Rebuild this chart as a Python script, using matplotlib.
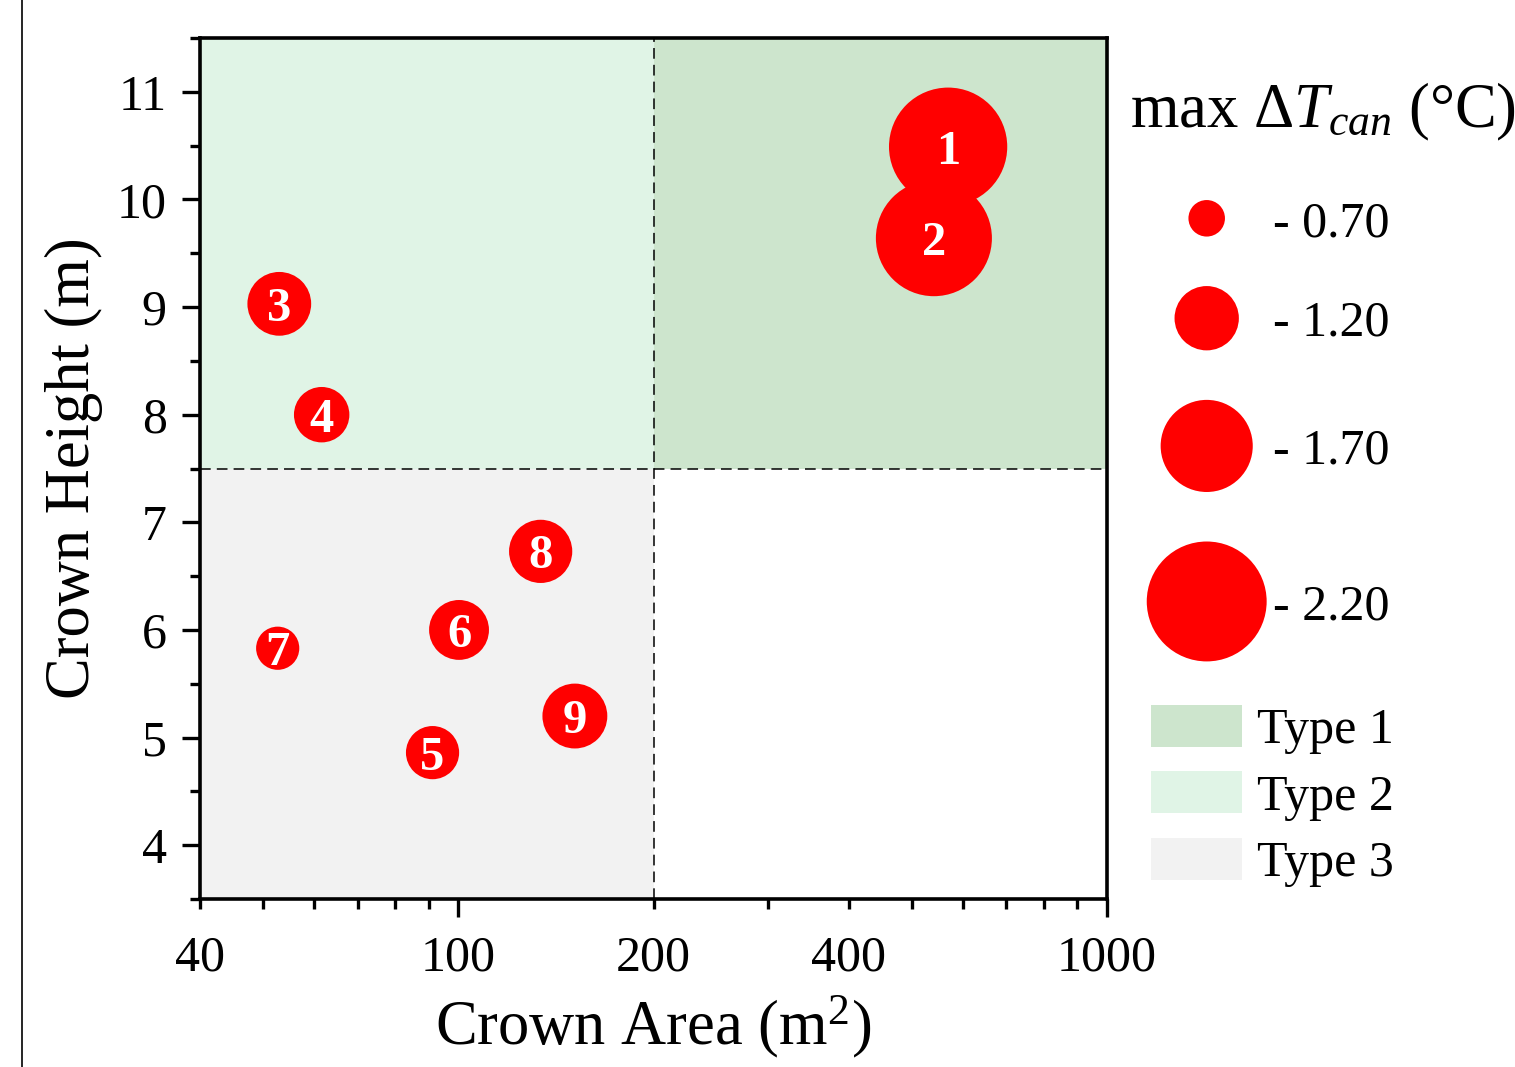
import matplotlib
matplotlib.use('Agg')
import matplotlib.pyplot as plt
from matplotlib.patches import Rectangle, Patch
from matplotlib.lines import Line2D
from matplotlib.ticker import FixedLocator, FuncFormatter, MultipleLocator

plt.rcParams['font.family'] = ['Liberation Serif', 'DejaVu Serif']
plt.rcParams['mathtext.fontset'] = 'custom'
plt.rcParams['mathtext.rm'] = 'Liberation Serif'
plt.rcParams['mathtext.it'] = 'Liberation Serif:italic'
plt.rcParams['mathtext.bf'] = 'Liberation Serif:bold'

# tree data
tree_ids = [1, 2, 3, 4, 5, 6, 7, 8, 9]
crown_area = [569, 541, 53.0, 61.6, 91.3, 100.3, 52.7, 134.0, 151.3]
crown_height = [10.49, 9.64, 9.03, 8.00, 4.86, 6.00, 5.83, 6.73, 5.20]
max_dt = [-2.17, -2.13, -1.19, -1.04, -1.00, -1.12, -0.82, -1.18, -1.21]

# size legend
legend_dt = [-0.70, -1.20, -1.70, -2.20]

# crown type regions
area_split = 200
height_split = 7.5
type_labels = ['Type 1', 'Type 2', 'Type 3']
type_colors = ['#cde5cd', '#e0f4e6', '#f2f2f2']

x_ticks_labelled = [40, 100, 200, 400, 1000]

DPI = 100
W, H = 1515, 1067
RED = '#ff0000'


def radius_px(dt):
    return 27.8 * abs(dt) - 1.2


def marker_area(dt):
    d_pt = 2 * radius_px(dt) * 72 / DPI
    return d_pt ** 2


fig = plt.figure(figsize=(W / DPI, H / DPI), dpi=DPI)
ax = fig.add_axes([200 / W, 1 - 899 / H, 907 / W, 861 / H])

x_min, x_max = 40, 1000
y_min, y_max = 3.5, 11.5
ax.set_xscale('log')
ax.set_xlim(x_min, x_max)
ax.set_ylim(y_min, y_max)

# shaded regions
ax.add_patch(Rectangle((area_split, height_split), x_max - area_split, y_max - height_split,
                       fc=type_colors[0], lw=0, zorder=0))
ax.add_patch(Rectangle((x_min, height_split), area_split - x_min, y_max - height_split,
                       fc=type_colors[1], lw=0, zorder=0))
ax.add_patch(Rectangle((x_min, y_min), area_split - x_min, height_split - y_min,
                       fc=type_colors[2], lw=0, zorder=0))
ax.axvline(area_split, color='k', lw=1.1, dashes=(7, 4), zorder=1)
ax.axhline(height_split, color='k', lw=1.1, dashes=(7, 4), zorder=1)

ax.scatter(crown_area, crown_height, s=[marker_area(v) for v in max_dt],
           c=RED, linewidths=0, zorder=3)
for i, xa, yh in zip(tree_ids, crown_area, crown_height):
    ax.text(xa, yh, str(i), ha='center', va='center_baseline', color='white',
            fontsize=35, fontweight='bold', zorder=4)

# ticks
ax.xaxis.set_major_locator(FixedLocator([100, 1000]))
ax.xaxis.set_minor_locator(FixedLocator([40, 50, 60, 70, 80, 90, 200, 300, 400,
                                         500, 600, 700, 800, 900]))
fmt = FuncFormatter(lambda v, p: f'{v:g}' if round(v) in x_ticks_labelled else '')
ax.xaxis.set_major_formatter(fmt)
ax.xaxis.set_minor_formatter(fmt)
ax.yaxis.set_major_locator(MultipleLocator(1))
ax.yaxis.set_minor_locator(MultipleLocator(0.5))
ax.tick_params(which='both', direction='out', top=False, right=False, width=2.4,
               labelsize=36)
ax.tick_params(which='major', length=13)
ax.tick_params(which='minor', length=7)
ax.tick_params(axis='x', which='major', pad=13)
ax.tick_params(axis='x', which='minor', pad=19)
ax.tick_params(axis='y', which='major', pad=11)
for sp in ax.spines.values():
    sp.set_linewidth(2.6)

ax.set_xlabel('Crown Area (m$^2$)', fontsize=45, labelpad=8)
ax.set_ylabel('Crown Height (m)', fontsize=45, labelpad=10)

# type legend
handles = [Patch(facecolor=c, edgecolor='none') for c in type_colors]
ax.legend(handles, type_labels, loc='upper left', bbox_to_anchor=(1151 / W, 1 - 705 / H),
          bbox_transform=fig.transFigure, frameon=False, fontsize=36,
          handlelength=1.82, handleheight=0.92, handletextpad=0.3,
          labelspacing=0.34, borderpad=0, borderaxespad=0)

# size legend, laid out in pixel space
lax = fig.add_axes([0, 0, 1, 1], zorder=5)
lax.set_xlim(0, W)
lax.set_ylim(H, 0)
lax.set_axis_off()
lax.text(1130, 127, r'max $\Delta T_{can}$ (°C)', fontsize=45, ha='left', va='baseline')
col_x = 1206.7
gap = 49.5
ys = []
y = 218.3
for k, v in enumerate(legend_dt):
    if k > 0:
        y += radius_px(legend_dt[k - 1]) + radius_px(v) + gap
    ys.append(y)
lax.scatter([col_x] * len(legend_dt), ys, s=[marker_area(v) for v in legend_dt],
            c=RED, linewidths=0)
for v, yy in zip(legend_dt, ys):
    lax.text(1273, yy, f'- {abs(v):.2f}', fontsize=36, ha='left', va='center_baseline')

fig.add_artist(Line2D([22 / W, 22 / W], [0, 1], transform=fig.transFigure,
                      color='k', lw=1.2))

fig.savefig('out.png', dpi=DPI)
